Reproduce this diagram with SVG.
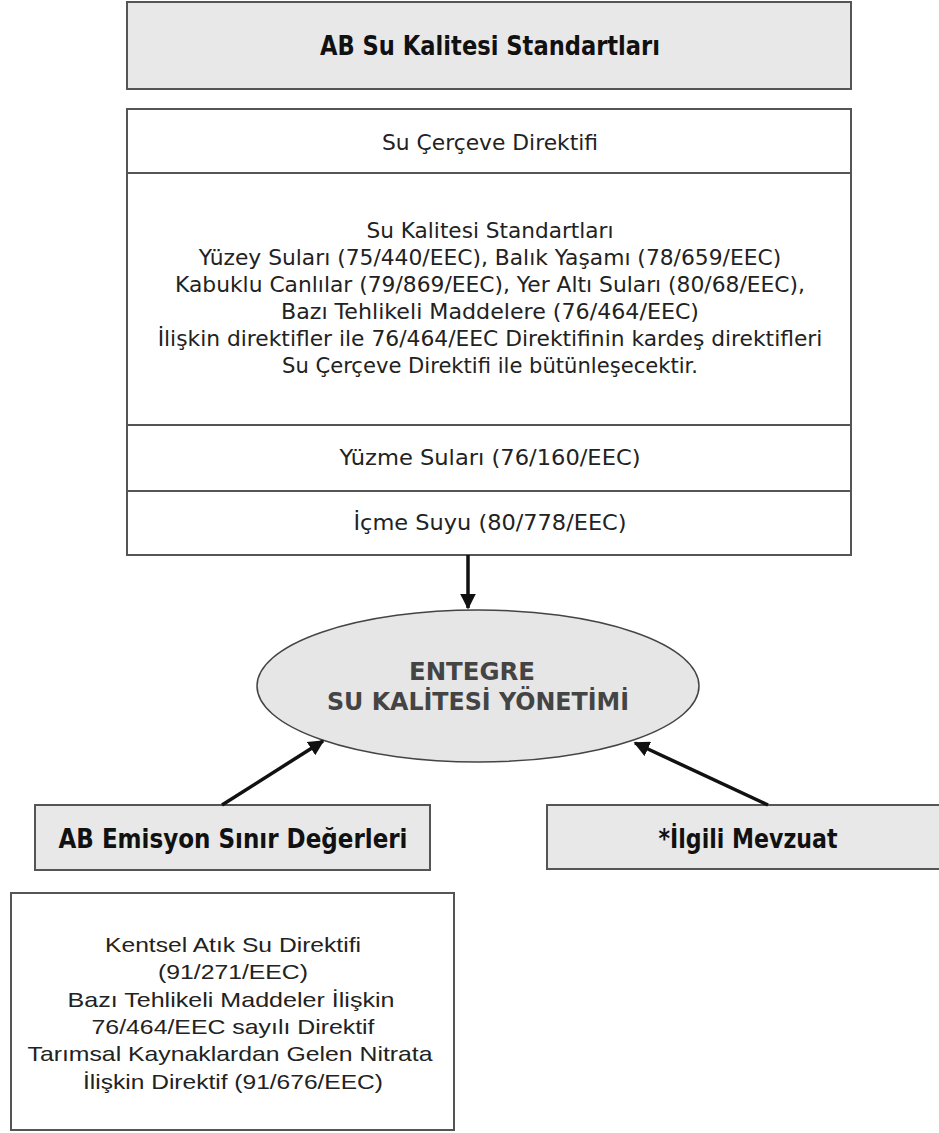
<svg xmlns="http://www.w3.org/2000/svg" width="939" height="1133" viewBox="0 0 939 1133">
<defs>
<style>
.box{fill:#ffffff;stroke:#555555;stroke-width:2}
.gbox{fill:#e8e8e8;stroke:#555555;stroke-width:2}
.sep{stroke:#555555;stroke-width:2}
.t{font-family:"DejaVu Sans","Liberation Sans",sans-serif;font-size:21px;fill:#222222;text-anchor:middle}
.tm{font-family:"DejaVu Sans","Liberation Sans",sans-serif;font-size:21.8px;fill:#222222;text-anchor:middle}
.tn{font-family:"Liberation Sans","Arial",sans-serif;font-size:21px;fill:#222222;text-anchor:middle}
.b{font-family:"DejaVu Sans","Liberation Sans",sans-serif;font-weight:bold;font-size:26px;fill:#111111;text-anchor:middle}
.e{font-family:"DejaVu Sans","Liberation Sans",sans-serif;font-weight:bold;font-size:24px;fill:#444444;text-anchor:middle}
.arr{stroke:#111111;stroke-width:3.5;fill:none}
</style>
<marker id="ah" viewBox="0 0 10 10" refX="9" refY="5" markerWidth="4.5" markerHeight="4.5" orient="auto" markerUnits="strokeWidth">
<path d="M0,0 L10,5 L0,10 Z" fill="#111111"/>
</marker>
</defs>
<rect width="939" height="1133" fill="#ffffff"/>

<g id="ab-su-kalitesi">
<rect class="gbox" x="127" y="2" width="724" height="87"/>
<text class="b" x="490" y="55" textLength="340" lengthAdjust="spacingAndGlyphs">AB Su Kalitesi Standartları</text>
</g>

<g id="standartlar">
<rect class="box" x="127" y="109" width="724" height="446"/>
<line class="sep" x1="127" y1="173" x2="851" y2="173"/>
<line class="sep" x1="127" y1="425" x2="851" y2="425"/>
<line class="sep" x1="127" y1="491" x2="851" y2="491"/>
<text class="t" x="490" y="150" textLength="216" lengthAdjust="spacingAndGlyphs">Su Çerçeve Direktifi</text>
<text class="tm" x="490" y="238" textLength="247" lengthAdjust="spacingAndGlyphs">Su Kalitesi Standartları</text>
<text class="tm" x="490" y="265">Yüzey Suları (75/440/EEC), Balık Yaşamı (78/659/EEC)</text>
<text class="tm" x="490" y="292">Kabuklu Canlılar (79/869/EEC), Yer Altı Suları (80/68/EEC),</text>
<text class="tm" x="490" y="319" textLength="418" lengthAdjust="spacingAndGlyphs">Bazı Tehlikeli Maddelere (76/464/EEC)</text>
<text class="tm" x="490" y="346">İlişkin direktifler ile 76/464/EEC Direktifinin kardeş direktifleri</text>
<text class="tm" x="490" y="373" textLength="416" lengthAdjust="spacingAndGlyphs">Su Çerçeve Direktifi ile bütünleşecektir.</text>
<text class="t" x="490" y="465" textLength="301" lengthAdjust="spacingAndGlyphs">Yüzme Suları (76/160/EEC)</text>
<text class="t" x="490" y="530" textLength="273" lengthAdjust="spacingAndGlyphs">İçme Suyu (80/778/EEC)</text>
</g>

<g id="entegre">
<ellipse cx="478" cy="686" rx="221" ry="76" fill="#e6e6e6" stroke="#444444" stroke-width="1.5"/>
<text class="e" x="472" y="680" textLength="126" lengthAdjust="spacingAndGlyphs">ENTEGRE</text>
<text class="e" x="478" y="710" textLength="302" lengthAdjust="spacingAndGlyphs" fill="#333333">SU KALİTESİ YÖNETİMİ</text>
</g>

<g id="emisyon">
<rect class="gbox" x="35" y="805" width="395" height="65"/>
<text class="b" x="233" y="848" textLength="349" lengthAdjust="spacingAndGlyphs">AB Emisyon Sınır Değerleri</text>
</g>

<g id="mevzuat">
<rect class="gbox" x="547" y="805" width="400" height="64"/>
<text class="b" x="748" y="848" textLength="179" lengthAdjust="spacingAndGlyphs">*İlgili Mevzuat</text>
</g>

<g id="direktifler">
<rect class="box" x="11" y="893" width="443" height="237"/>
<text class="tn" x="233" y="952" textLength="256" lengthAdjust="spacingAndGlyphs">Kentsel Atık Su Direktifi</text>
<text class="tn" x="233" y="979" textLength="150" lengthAdjust="spacingAndGlyphs">(91/271/EEC)</text>
<text class="tn" x="231" y="1007" textLength="327" lengthAdjust="spacingAndGlyphs">Bazı Tehlikeli Maddeler İlişkin</text>
<text class="tn" x="233" y="1034" textLength="283" lengthAdjust="spacingAndGlyphs">76/464/EEC sayılı Direktif</text>
<text class="tn" x="230" y="1061" textLength="405" lengthAdjust="spacingAndGlyphs">Tarımsal Kaynaklardan Gelen Nitrata</text>
<text class="tn" x="233" y="1089" textLength="300" lengthAdjust="spacingAndGlyphs">İlişkin Direktif (91/676/EEC)</text>
</g>

<g id="connectors">
<line class="arr" x1="468" y1="555" x2="468" y2="608" marker-end="url(#ah)"/>
<line class="arr" x1="222" y1="805" x2="323" y2="741" marker-end="url(#ah)"/>
<line class="arr" x1="768" y1="805" x2="635" y2="743" marker-end="url(#ah)"/>
</g>
</svg>
